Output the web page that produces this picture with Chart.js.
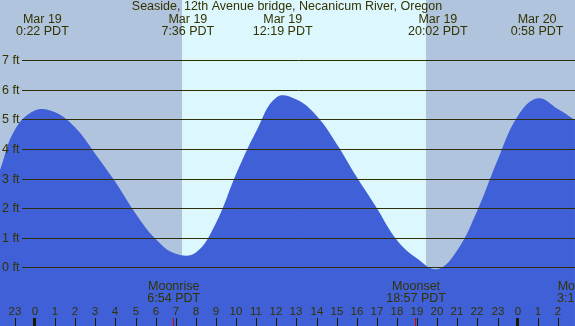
<!DOCTYPE html>
<html>
<head>
<meta charset="utf-8">
<script src="https://cdn.jsdelivr.net/npm/chart.js@4"></script>
<style>
  html, body { margin: 0; padding: 0; background: #b0c4de; }
  #wrap { width: 575px; height: 326px; }
</style>
</head>
<body>
<div id="wrap"><canvas id="tide" width="575" height="326"></canvas></div>
<script>
const TITLE = "Seaside, 12th Avenue bridge, Necanicum River, Oregon";

// hours since Mar 19 00:00 PDT, tide height in ft
const tideHours = [-1.74, -1, 0, 1, 2, 3, 4, 5, 6, 7, 8, 9, 10, 11, 12, 13, 14, 15,
  16, 17, 18, 19, 20, 21, 22, 23, 24, 25, 26, 26.85];
const tideFeet = [3.29, 4.65, 5.30, 5.24, 4.72, 3.83, 2.88, 1.82, 0.96, 0.46, 0.5, 1.5,
  3.15, 4.6, 5.74, 5.67, 5.12, 4.17, 3.05, 2.0, 0.92, 0.3, -0.06, 0.58, 1.93, 3.62, 5.1,
  5.71, 5.35, 4.98];

const extremeHours = [0.367, 7.6, 12.317, 20.033, 24.967];
const extremeDates = ["Mar 19", "Mar 19", "Mar 19", "Mar 19", "Mar 20"];
const extremeTimes = ["0:22 PDT", "7:36 PDT", "12:19 PDT", "20:02 PDT", "0:58 PDT"];

const sunriseHour = 7.31;
const sunsetHour = 19.44;

const moonHours = [6.9, 18.95, 27.27];
const moonNames = ["Moonrise", "Moonset", "Moonrise"];
const moonTimes = ["6:54 PDT", "18:57 PDT", "3:16 PDT"];

const feetTicks = [0, 1, 2, 3, 4, 5, 6, 7];
const hourTicks = [-1, 0, 1, 2, 3, 4, 5, 6, 7, 8, 9, 10, 11, 12, 13, 14, 15, 16, 17, 18, 19, 20,
  21, 22, 23, 24, 25, 26];

const TEXT = "#333300";
const FONT = "12.5px 'Liberation Sans', Arial, sans-serif";

const backdrop = {
  id: "backdrop",
  beforeDraw(chart) {
    const { ctx, chartArea: a, scales: { x } } = chart;
    ctx.save();
    ctx.fillStyle = "#b0c4de";
    ctx.fillRect(a.left, a.top, a.right - a.left, a.bottom - a.top);
    const x1 = x.getPixelForValue(sunriseHour);
    const x2 = x.getPixelForValue(sunsetHour);
    ctx.fillStyle = "#ddf7ff";
    ctx.fillRect(x1, a.top, x2 - x1, a.bottom - a.top);
    ctx.restore();
  }
};

const overlay = {
  id: "overlay",
  afterDraw(chart) {
    const { ctx, chartArea: a, scales: { x, y } } = chart;
    ctx.save();

    // ft grid and labels
    ctx.font = FONT;
    ctx.textBaseline = "middle";
    ctx.textAlign = "left";
    feetTicks.forEach((ft) => {
      const py = Math.round(y.getPixelForValue(ft)) + 0.5;
      ctx.strokeStyle = "#2e2e08";
      ctx.lineWidth = 1;
      ctx.beginPath();
      ctx.moveTo(22, py);
      ctx.lineTo(a.right, py);
      ctx.stroke();
      ctx.fillStyle = TEXT;
      ctx.fillText(ft + " ft", 2, py);
    });

    // title and tide extremes
    ctx.textAlign = "center";
    ctx.fillStyle = TEXT;
    ctx.fillText(TITLE, 287, 7);
    extremeHours.forEach((h, i) => {
      const px = x.getPixelForValue(h);
      ctx.fillText(extremeDates[i], px, 20);
      ctx.fillText(extremeTimes[i], px, 32);
    });

    // moon events
    moonHours.forEach((h, i) => {
      const px = x.getPixelForValue(h);
      ctx.fillText(moonNames[i], px, 287);
      ctx.fillText(moonTimes[i], px, 299);
      ctx.fillStyle = "#dd0000";
      ctx.fillRect(Math.round(px) - 1, 318, 1, 8);
      ctx.fillStyle = TEXT;
    });

    // hour ticks
    ctx.font = "11.5px 'Liberation Sans', Arial, sans-serif";
    hourTicks.forEach((h) => {
      const px = Math.round(x.getPixelForValue(h));
      const label = String(((h % 24) + 24) % 24);
      ctx.fillStyle = TEXT;
      ctx.fillText(label, px, 312);
      ctx.fillStyle = "#1a1a00";
      if (label === "0") ctx.fillRect(px - 2, 318, 3, 8);
      else ctx.fillRect(px, 318, 1, 8);
    });

    ctx.restore();
  }
};

new Chart(document.getElementById("tide"), {
  type: "line",
  data: {
    datasets: [{
      data: tideHours.map((h, i) => ({ x: h, y: tideFeet[i] })),
      borderWidth: 0,
      borderColor: "rgba(0,0,0,0)",
      backgroundColor: "#4060d8",
      fill: "start",
      pointRadius: 0,
      tension: 0.4
    }]
  },
  options: {
    responsive: false,
    animation: false,
    layout: { padding: 0 },
    plugins: { legend: { display: false }, tooltip: { enabled: false } },
    scales: {
      x: { type: "linear", display: false, min: -1.74, max: 26.852 },
      y: { display: false, min: -1.98, max: 9.03 }
    }
  },
  plugins: [backdrop, overlay]
});
</script>
</body>
</html>
